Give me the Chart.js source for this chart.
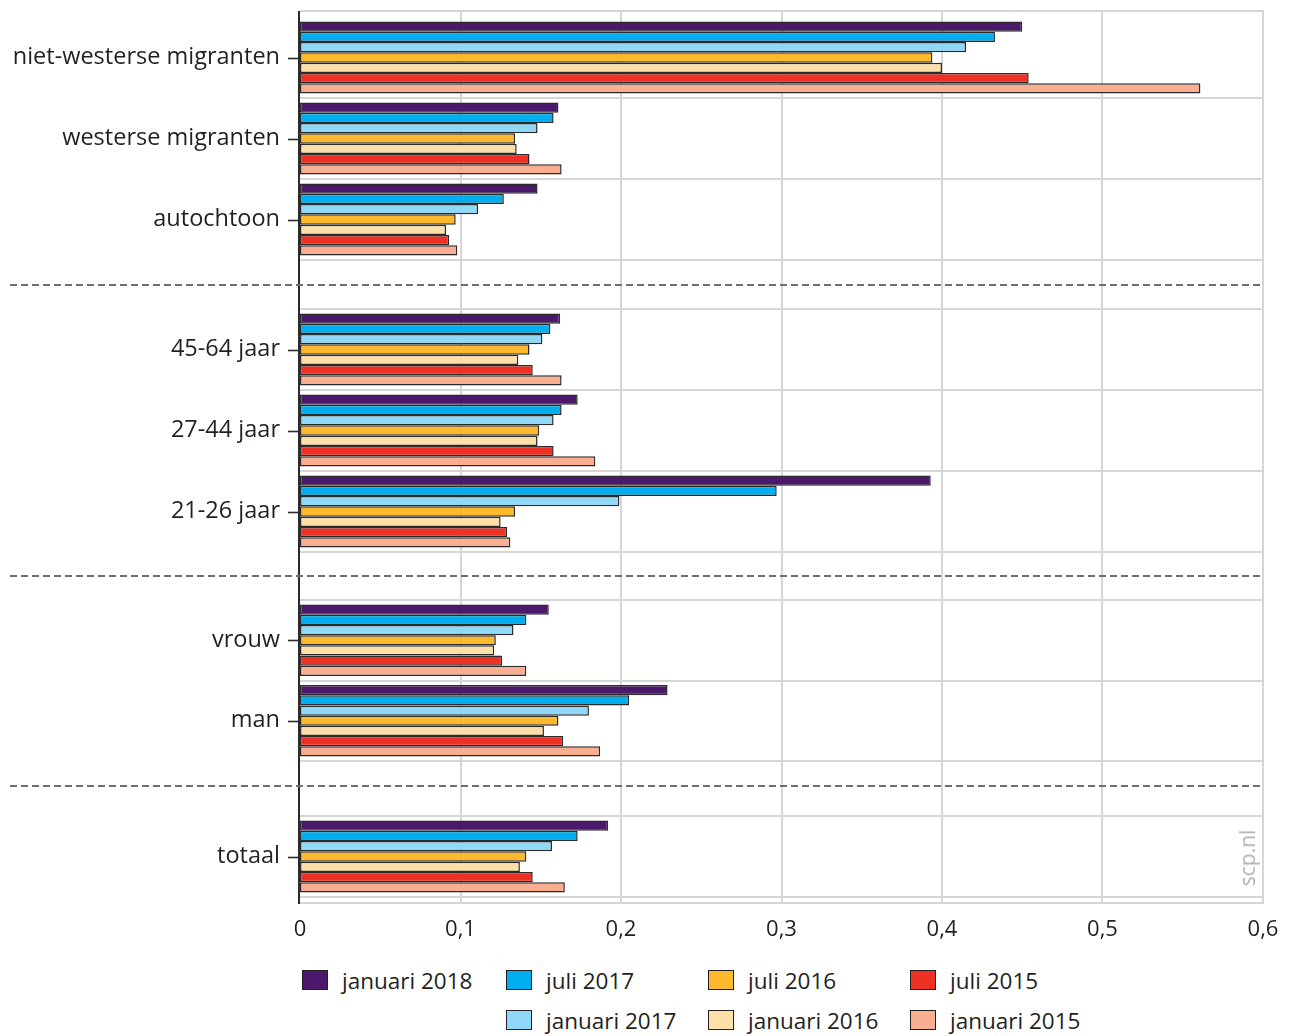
<!DOCTYPE html>
<html>
<head>
<meta charset="utf-8">
<script src="https://cdn.jsdelivr.net/npm/chart.js@4/dist/chart.umd.min.js"></script>
<style>
  html, body { margin: 0; padding: 0; background: #fff; }
  #wrap { position: relative; width: 1290px; height: 1036px; overflow: hidden; font-family: "Open Sans", sans-serif; color: #231f20; }
  canvas { position: absolute; left: 0; }
  .leg { position: absolute; height: 22px; display: flex; align-items: center; font-size: 22.5px; white-space: nowrap; }
  .sw { display: inline-block; width: 24px; height: 18px; border: 1.5px solid #231f20; margin-right: 14px; }
  #scp { position: absolute; left: 1247px; top: 858px; transform: translate(-50%, -50%) rotate(-90deg); font-size: 21px; color: #b0b0b0; white-space: nowrap; }
</style>
</head>
<body>
<div id="wrap">
  <canvas id="c0" width="1290" height="287" style="top:0px"></canvas>
  <canvas id="c1" width="1290" height="291" style="top:287px"></canvas>
  <canvas id="c2" width="1290" height="210" style="top:578px"></canvas>
  <canvas id="c3" width="1290" height="158" style="top:788px"></canvas>
  <div id="scp">scp.nl</div>
</div>
<script>
// ---- data ----
const categories = ['niet-westerse migranten', 'westerse migranten', 'autochtoon',
                    '45-64 jaar', '27-44 jaar', '21-26 jaar',
                    'vrouw', 'man',
                    'totaal'];
const groupSizes = [3, 3, 2, 1];
const seriesNames = ['januari 2018', 'juli 2017', 'januari 2017', 'juli 2016', 'januari 2016', 'juli 2015', 'januari 2015'];
const jan2018 = [0.450, 0.161, 0.148, 0.162, 0.173, 0.393, 0.155, 0.229, 0.192];
const jul2017 = [0.433, 0.158, 0.127, 0.156, 0.163, 0.297, 0.141, 0.205, 0.173];
const jan2017 = [0.415, 0.148, 0.111, 0.151, 0.158, 0.199, 0.133, 0.180, 0.157];
const jul2016 = [0.394, 0.134, 0.097, 0.143, 0.149, 0.134, 0.122, 0.161, 0.141];
const jan2016 = [0.400, 0.135, 0.091, 0.136, 0.148, 0.125, 0.121, 0.152, 0.137];
const jul2015 = [0.454, 0.143, 0.093, 0.145, 0.158, 0.129, 0.126, 0.164, 0.145];
const jan2015 = [0.561, 0.163, 0.098, 0.163, 0.184, 0.131, 0.141, 0.187, 0.165];
const xTickLabels = ['0', '0,1', '0,2', '0,3', '0,4', '0,5', '0,6'];

// ---- styles ----
const seriesValues = [jan2018, jul2017, jan2017, jul2016, jan2016, jul2015, jan2015];
const seriesColors = ['#4b186c', '#00aeef', '#8fd8f8', '#fdb92e', '#ffdfa8', '#ee3124', '#f9ad91'];
const GRID = '#d6d6d6';
const INK = '#231f20';
const FONT = '"Open Sans", sans-serif';

// per-canvas layout (canvas-relative pixels)
const panels = [
  { id: 'c0', pad: { top: 17, bottom: 27 }, gridTop: 11, gridBottom: 287, topLine: 11, bottomLine: null, dash: 285, hide: [0], xAxis: false },
  { id: 'c1', pad: { top: 22, bottom: 26 }, gridTop: 0, gridBottom: 291, topLine: null, bottomLine: null, dash: 289, hide: [], xAxis: false },
  { id: 'c2', pad: { top: 22, bottom: 27 }, gridTop: 0, gridBottom: 210, topLine: null, bottomLine: null, dash: 208, hide: [], xAxis: false },
  { id: 'c3', pad: { top: 28, bottom: 0 }, gridTop: 0, gridBottom: 115, topLine: null, bottomLine: 115, dash: null, hide: [1], xAxis: true }
];

function seg(ctx, x1, y1, x2, y2) { ctx.beginPath(); ctx.moveTo(x1, y1); ctx.lineTo(x2, y2); ctx.stroke(); }

const framePlugin = {
  id: 'frame',
  beforeDatasetsDraw(chart, args, o) {
    const ctx = chart.ctx, xs = chart.scales.x;
    ctx.save();
    ctx.strokeStyle = GRID; ctx.lineWidth = 2;
    xs.ticks.forEach((t, i) => {
      if (i === 0) return;
      const px = Math.round(xs.getPixelForTick(i));
      seg(ctx, px, o.gridTop, px, o.gridBottom);
    });
    if (o.topLine != null) seg(ctx, xs.left, o.topLine, xs.right + 1, o.topLine);
    if (o.bottomLine != null) seg(ctx, xs.left, o.bottomLine, xs.right + 1, o.bottomLine);
    ctx.restore();
  },
  afterDraw(chart, args, o) {
    const ctx = chart.ctx, xs = chart.scales.x, ys = chart.scales.y;
    const x0 = Math.round(xs.getPixelForValue(0)) - 1;
    ctx.save();
    ctx.strokeStyle = '#2b2b2b'; ctx.lineWidth = 2;
    seg(ctx, x0, o.gridTop, x0, o.gridBottom + (o.bottomLine != null ? 1 : 0));
    ctx.lineWidth = 1.6;
    ys.ticks.forEach((t, i) => {
      const py = Math.round(ys.getPixelForTick(i)) + 0.5;
      seg(ctx, x0 - 11, py, x0, py);
    });
    if (o.dash != null) {
      ctx.setLineDash([7, 4]);
      ctx.strokeStyle = '#6e6e6e'; ctx.lineWidth = 2;
      seg(ctx, 10, o.dash, xs.right + 1, o.dash);
    }
    ctx.restore();
  }
};

let start = 0;
panels.forEach((p, g) => {
  const n = groupSizes[g];
  const labels = categories.slice(start, start + n);
  const datasets = seriesNames.map((name, s) => ({
    label: name,
    data: seriesValues[s].slice(start, start + n),
    backgroundColor: seriesColors[s],
    borderColor: '#2b2b2b',
    borderWidth: 1.5,
    borderSkipped: false,
    categoryPercentage: 0.89,
    barPercentage: 1.0
  }));
  start += n;
  new Chart(document.getElementById(p.id), {
    type: 'bar',
    data: { labels, datasets },
    options: {
      indexAxis: 'y',
      responsive: false,
      animation: false,
      layout: { padding: { top: p.pad.top, bottom: p.pad.bottom, left: 0, right: 27 } },
      plugins: {
        legend: { display: false },
        tooltip: { enabled: false },
        frame: p
      },
      scales: {
        x: {
          type: 'linear', min: 0, max: 0.6,
          display: p.xAxis,
          grid: { display: false, drawTicks: false },
          border: { display: false },
          ticks: {
            stepSize: 0.1,
            padding: 20,
            color: INK,
            font: { family: FONT, size: 22 },
            maxRotation: 0,
            callback: (v, i) => xTickLabels[i]
          },
          afterFit: (sc) => {
            sc.height = p.xAxis ? 49 : 0;
            sc.paddingLeft = 0; sc.paddingRight = 0;
          }
        },
        y: {
          type: 'category',
          grid: {
            offset: true,
            drawTicks: false,
            lineWidth: 2,
            color: (c) => p.hide.includes(c.index) ? 'rgba(0,0,0,0)' : GRID
          },
          border: { display: false },
          ticks: {
            padding: 20,
            color: INK,
            font: { family: FONT, size: 23.5 }
          },
          afterFit: (sc) => {
            sc.width = 300;
            sc.paddingTop = 0; sc.paddingBottom = 0;
          }
        }
      }
    },
    plugins: [framePlugin]
  });
});

// ---- legend (HTML) ----
const legendRows = [[0, 1, 3, 5], [null, 2, 4, 6]];
const colX = [302, 506, 708, 910];
const rowY = [969, 1009];
const wrap = document.getElementById('wrap');
legendRows.forEach((row, r) => row.forEach((s, c) => {
  if (s == null) return;
  const d = document.createElement('div');
  d.className = 'leg';
  d.style.left = colX[c] + 'px';
  d.style.top = rowY[r] + 'px';
  const sw = document.createElement('span');
  sw.className = 'sw';
  sw.style.background = seriesColors[s];
  d.appendChild(sw);
  d.appendChild(document.createTextNode(seriesNames[s]));
  wrap.appendChild(d);
}));
</script>
</body>
</html>
